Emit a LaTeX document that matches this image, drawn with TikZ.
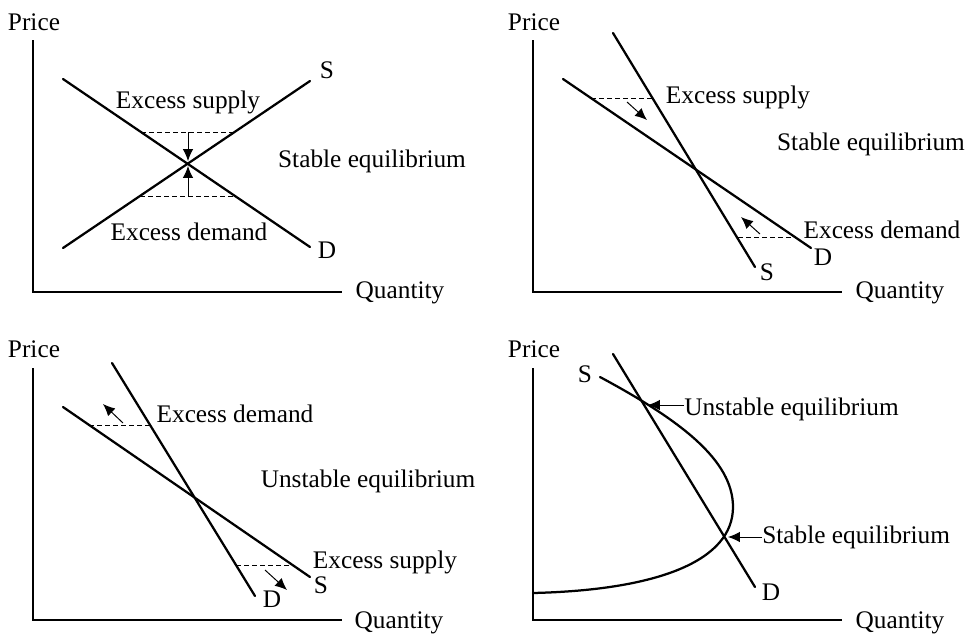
\documentclass[tikz,border=0pt]{standalone}
\usepackage{fontspec}
\setmainfont{Liberation Serif}
\usetikzlibrary{arrows.meta}
\tikzset{
  curve/.style = {line width=1.6pt, line cap=round},
  axis/.style  = {line width=1pt},
  gap/.style   = {line width=0.6pt, dash pattern=on 3.5pt off 2.2pt},
  push/.style  = {-{Latex[length=8.5pt,width=7.5pt]}, line width=0.7pt},
  lbl/.style   = {anchor=base, inner sep=0pt, font=\fontsize{18}{20}\selectfont},
}

\begin{document}
\begin{tikzpicture}[x=0.025cm, y=-0.025cm]
  \useasboundingbox (0,0) rectangle (969,634);

  % top left: stable
  \coordinate (top1) at (33,40);  \coordinate (o1) at (33,292);  \coordinate (end1) at (342,292);
  \draw[axis] (top1) -- (o1) -- (end1);
  \node[lbl] (price1) at (34,30) {Price};
  \node[lbl] (qty1) at (400,298) {Quantity};
  \coordinate (d1a) at (63,79);   \coordinate (d1b) at (310,247);
  \coordinate (s1a) at (63,248);  \coordinate (s1b) at (310,81);
  \draw[curve] (d1a) -- (d1b);
  \draw[curve] (s1a) -- (s1b);
  \draw[gap] (141,132) -- (235,132);
  \draw[gap] (140,196) -- (235,196);
  \draw[push] (188,132) -- (188,161);
  \draw[push] (188,196) -- (188,166);
  \node[lbl] (s1) at (327,78) {S};
  \node[lbl] (d1) at (327,258) {D};
  \node[lbl] (xs1) at (188,108) {Excess supply};
  \node[lbl] (xd1) at (189,240) {Excess demand};
  \node[lbl] (eq1) at (372,167) {Stable equilibrium};

  % top right: stable, steep supply
  \coordinate (top2) at (533,40);  \coordinate (o2) at (533,292);  \coordinate (end2) at (842,292);
  \draw[axis] (top2) -- (o2) -- (end2);
  \node[lbl] (price2) at (534,30) {Price};
  \node[lbl] (qty2) at (900,298) {Quantity};
  \coordinate (s2a) at (613,33);  \coordinate (s2b) at (755,267);
  \coordinate (d2a) at (563,79);  \coordinate (d2b) at (811,248);
  \draw[curve] (s2a) -- (s2b);
  \draw[curve] (d2a) -- (d2b);
  \draw[gap] (591,98) -- (652,98);
  \draw[gap] (738,237) -- (795,237);
  \draw[push] (627,102) -- (647,120);
  \draw[push] (760,234) -- (741,217);
  \node[lbl] (xs2) at (738,103) {Excess supply};
  \node[lbl] (eq2) at (871,150) {Stable equilibrium};
  \node[lbl] (xd2) at (882,238) {Excess demand};
  \node[lbl] (d2) at (823,265) {D};
  \node[lbl] (s2) at (767,280) {S};

  % bottom left: unstable
  \coordinate (top3) at (33,368);  \coordinate (o3) at (33,620);  \coordinate (end3) at (342,620);
  \draw[axis] (top3) -- (o3) -- (end3);
  \node[lbl] (price3) at (34,357) {Price};
  \node[lbl] (qty3) at (399,628) {Quantity};
  \coordinate (d3a) at (112,363); \coordinate (d3b) at (255,596);
  \coordinate (s3a) at (63,407);  \coordinate (s3b) at (310,577);
  \draw[curve] (d3a) -- (d3b);
  \draw[curve] (s3a) -- (s3b);
  \draw[gap] (89,425) -- (150,425);
  \draw[gap] (236,565) -- (293,565);
  \draw[push] (123,423) -- (103,404);
  \draw[push] (265,570) -- (287,590);
  \node[lbl] (xd3) at (235,422) {Excess demand};
  \node[lbl] (eq3) at (368,487) {Unstable equilibrium};
  \node[lbl] (xs3) at (385,568) {Excess supply};
  \node[lbl] (s3) at (321,593) {S};
  \node[lbl] (d3) at (272,607) {D};

  % bottom right: backward-bending supply
  \coordinate (top4) at (533,368);  \coordinate (o4) at (533,620);  \coordinate (end4) at (842,620);
  \draw[axis] (top4) -- (o4) -- (end4);
  \node[lbl] (price4) at (534,357) {Price};
  \node[lbl] (qty4) at (900,628) {Quantity};
  \coordinate (d4a) at (613,354); \coordinate (d4b) at (755,587);
  \draw[curve] (d4a) -- (d4b);
  \coordinate (s4a) at (600,377); \coordinate (s4m) at (733,507); \coordinate (s4b) at (533,593);
  \draw[curve] (s4a) .. controls (680,420) and (733,460) .. (s4m)
                     .. controls (733,560) and (660,590) .. (s4b);
  \node[lbl] (s4) at (585,382) {S};
  \node[lbl] (d4) at (771,600) {D};
  \node[lbl, anchor=base west] (ueq) at (684,415) {Unstable equilibrium};
  \node[lbl, anchor=base west] (seq) at (762,543) {Stable equilibrium};
  \coordinate (ui) at (648,405);
  \coordinate (si) at (728,537);
  \draw[push] (ui -| ueq.west) -- (ui);
  \draw[push] (si -| seq.west) -- (si);
\end{tikzpicture}
\end{document}
